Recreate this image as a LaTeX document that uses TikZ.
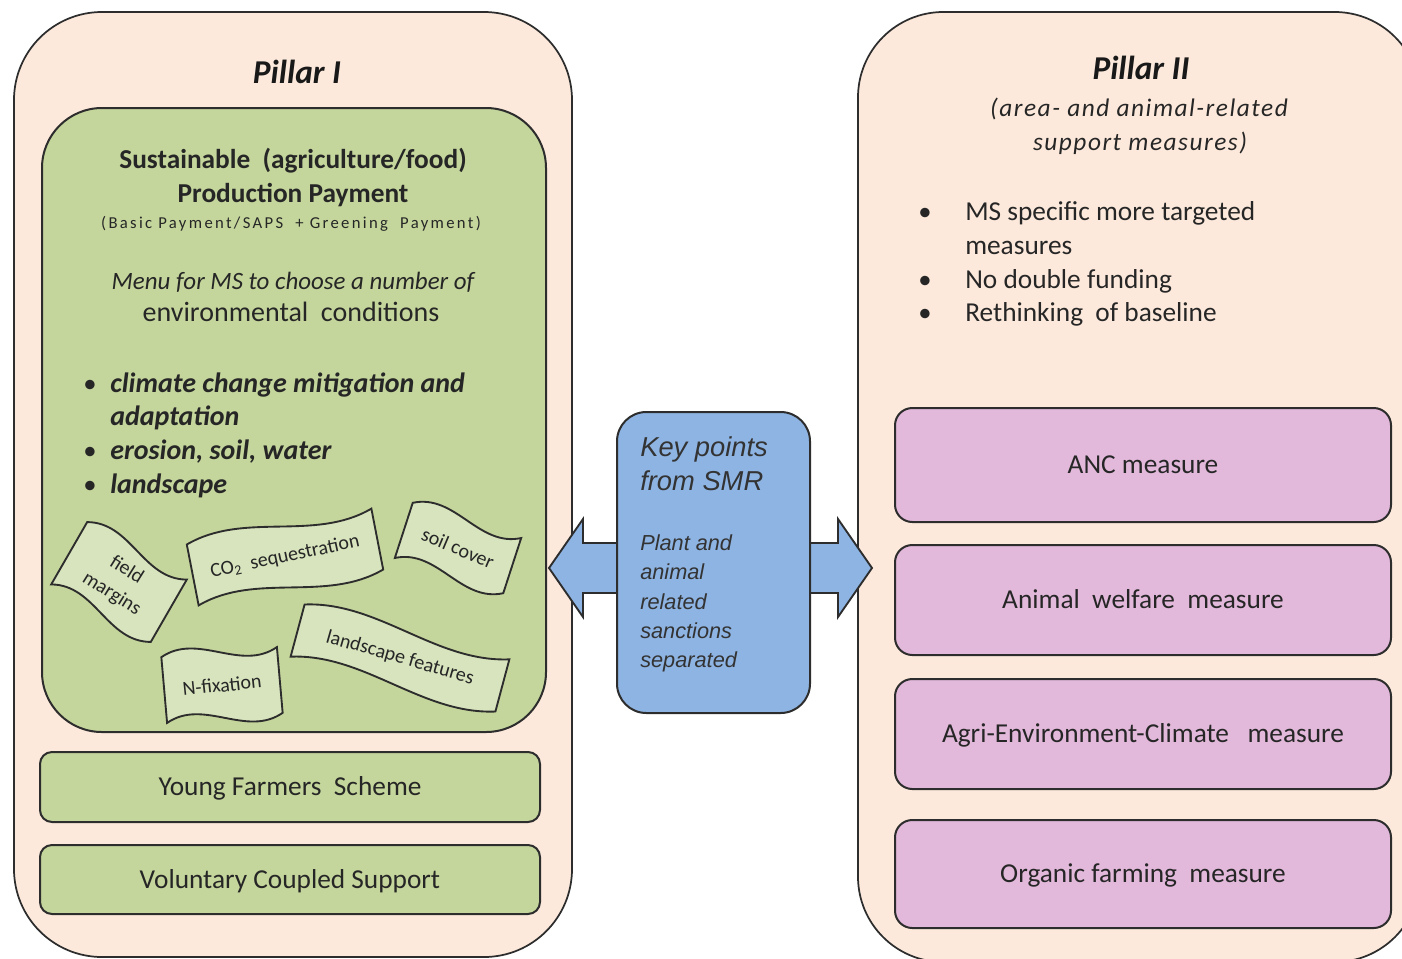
\documentclass[tikz,border=0pt]{standalone}
\usepackage{fontspec}
\setmainfont{Carlito}
\newfontfamily\arialfont{Liberation Sans}
\usetikzlibrary{calc}

\definecolor{pillarfill}{RGB}{252,233,219}
\definecolor{greenfill}{RGB}{196,214,156}
\definecolor{flagfill}{RGB}{215,228,189}
\definecolor{pinkfill}{RGB}{226,185,219}
\definecolor{bluefill}{RGB}{142,180,227}
\definecolor{edge}{RGB}{45,45,45}

% wavy banner: name, x, y, width, height, angle of banner, angle of text, text
\newcommand\wavyflag[8]{%
  \begin{scope}[shift={(#2,#3)}, rotate=#6]
    \draw[flagbox] (-#4/2,-#5/2)
      .. controls (-#4/6,-#5/2-22) and (#4/6,-#5/2+22) .. (#4/2,-#5/2)
      -- (#4/2,#5/2)
      .. controls (#4/6,#5/2+22) and (-#4/6,#5/2-22) .. (-#4/2,#5/2)
      -- cycle;
  \end{scope}
  \node[flagtext, rotate=#7] (#1) at (#2,#3) {#8};}

\begin{document}
\begin{tikzpicture}[x=0.75pt,y=-0.75pt,
  pillar/.style={draw=edge, line width=1.3pt, fill=pillarfill, rounded corners=66pt},
  greenbox/.style={draw=edge, line width=1.5pt, fill=greenfill},
  pinkbox/.style={draw=edge, line width=1.5pt, fill=pinkfill, rounded corners=13pt,
    minimum width=372pt},
  flagbox/.style={draw=edge, line width=1.4pt, fill=flagfill},
  flagtext/.style={font=\fontsize{15}{19}\selectfont, align=center, inner sep=0pt, text=black!85},
  blockarrow/.style={draw=edge, line width=1.4pt, fill=bluefill, line join=miter},
  title/.style={font=\fontsize{25}{30}\selectfont\bfseries\itshape, text=black!90,
    inner sep=0pt, text height=17.6pt, text depth=1pt},
  body/.style={font=\fontsize{20.5}{24}\selectfont, text=black!85, inner sep=0pt,
    text height=14.2pt, text depth=1pt},
  bitem/.style={body, anchor=west, font=\fontsize{21}{24}\selectfont\bfseries\itshape},
  bullet/.style={font=\fontsize{20}{24}\selectfont, text=black!85, inner sep=0pt,
    text height=14.2pt, text depth=1pt},
  keyline/.style={font=\arialfont\itshape\fontsize{16.3}{19}\selectfont, text=black!80,
    anchor=west, inner sep=0pt, text height=11.5pt, text depth=1pt},
]
\useasboundingbox (0,0) rectangle (1402,958);
\clip (0,0) rectangle (1402,958);

% ---------- Pillar I ----------
\node[pillar, minimum width=418.5pt, minimum height=708.75pt] (p1) at (293,484.5) {};
\node[title] (p1title) at (297,72) {Pillar I};

\node[greenbox, rounded corners=45pt, minimum width=378pt, minimum height=468pt]
  (spp) at (294,420) {};
\node[body, font=\fontsize{20.5}{24}\selectfont\bfseries] (spp1) at (293,160)
  {Sustainable\ \ (agriculture/food)};
\node[body, font=\fontsize{20.5}{24}\selectfont\bfseries] (spp2) at (293,194)
  {Production Payment};
\node[body, font=\fontsize{12.5}{14}\selectfont\addfontfeatures{LetterSpace=14},
  text height=9pt] (spp3) at (291,223)
  {(Basic Payment/SAPS\ \ + Greening\ \ Payment)};
\node[body, font=\fontsize{18.7}{22}\selectfont\itshape] (menu1) at (293,281)
  {Menu for MS to choose a number of};
\node[body, font=\fontsize{21}{24}\selectfont] (menu2) at (291,313) {environmental\ \ conditions};

\node[bullet] (b1) at (90,384) {•};
\node[bitem] (t1a) at (110,384) {climate change mitigation and};
\node[bitem] (t1b) at (110,417) {adaptation};
\node[bullet] (b2) at (90,451) {•};
\node[bitem] (t2) at (110,451) {erosion, soil, water};
\node[bullet] (b3) at (90,485) {•};
\node[bitem] (t3) at (110,485) {landscape};

% environmental condition banners
\wavyflag{fm}{119}{582}{115}{72}{-30}{-32}{field\\[2pt]margins}
\wavyflag{co}{285}{557}{188}{62}{11}{12}{CO\textsubscript{2}\ \ sequestration}
\wavyflag{sc}{458}{548}{114}{58}{-18}{-23}{soil cover}
\wavyflag{nf}{222}{685}{116}{66}{5}{6}{N-fixation}
\wavyflag{lf}{400}{658}{212}{54}{-15}{-16}{landscape features}

\node[greenbox, rounded corners=9pt, minimum width=375pt, minimum height=52.5pt]
  (yfs) at (290,787) {};
\node[body] (yfst) at (yfs.center) {Young Farmers\ \ Scheme};
\node[greenbox, rounded corners=9pt, minimum width=375pt, minimum height=51.75pt]
  (vcs) at (290,879.5) {};
\node[body] (vcst) at (vcs.center) {Voluntary Coupled Support};

% ---------- Pillar II ----------
\node[pillar, rounded corners=64pt, minimum width=421.5pt, minimum height=712.5pt] (p2) at (1139,487) {};
\node[title] (p2title) at (1141,68) {Pillar II};
\node[body, font=\fontsize{19}{22}\selectfont\itshape\addfontfeatures{LetterSpace=6}] (p2sub1) at (1139,108)
  {(area- and animal-related};
\node[body, font=\fontsize{19}{22}\selectfont\itshape\addfontfeatures{LetterSpace=6}] (p2sub2) at (1140,142)
  {support measures)};

\node[bullet] (r1) at (925,212) {•};
\node[body, anchor=west] (r1a) at (965,212) {MS specific\ more\ targeted};
\node[body, anchor=west] (r1b) at (965,246) {measures};
\node[bullet] (r2) at (925,280) {•};
\node[body, anchor=west] (r2a) at (965,280) {No double\ funding};
\node[bullet] (r3) at (925,313) {•};
\node[body, anchor=west] (r3a) at (965,313) {Rethinking\ \ of baseline};

\node[pinkbox, minimum height=85.5pt] (anc) at (1143,465) {};
\node[body] (anct) at (anc.center) {ANC measure};
\node[pinkbox, minimum height=82.5pt] (awm) at (1143,600) {};
\node[body] (awmt) at (awm.center) {Animal\ \ welfare\ \ measure};
\node[pinkbox, minimum height=82.5pt] (aec) at (1143,734) {};
\node[body] (aect) at (aec.center) {Agri-Environment-Climate\ \ \ measure};
\node[pinkbox, minimum height=81pt] (ofm) at (1143,874) {};
\node[body] (ofmt) at (ofm.center) {Organic\ farming\ \ measure};

% ---------- SMR key points with block arrows ----------
\coordinate (keyW) at (617,562.5);
\coordinate (keyE) at (810,562.5);
\draw[blockarrow] ($(keyW)+(6,-19.5)$) -- ($(keyW)+(-34,-19.5)$) -- ($(keyW)+(-34,-43.5)$)
  -- ($(keyW)+(-68,5.5)$) -- ($(keyW)+(-34,54.5)$) -- ($(keyW)+(-34,30.5)$)
  -- ($(keyW)+(6,30.5)$) -- cycle;
\draw[blockarrow] ($(keyE)+(-6,-19.5)$) -- ($(keyE)+(28,-19.5)$) -- ($(keyE)+(28,-43.5)$)
  -- ($(keyE)+(62,5.5)$) -- ($(keyE)+(28,54.5)$) -- ($(keyE)+(28,30.5)$)
  -- ($(keyE)+(-6,30.5)$) -- cycle;
\node[draw=edge, line width=1.5pt, fill=bluefill, rounded corners=22pt,
  minimum width=144.75pt, minimum height=225.75pt] (key) at (713.5,562.5) {};

\node[keyline, font=\arialfont\itshape\fontsize{20.5}{24}\selectfont, text height=15pt] (k1) at (640,447) {Key points};
\node[keyline, font=\arialfont\itshape\fontsize{20.5}{24}\selectfont, text height=15pt] (k2) at (640,481) {from\ SMR};
\node[keyline] (k3) at (640,543) {Plant and};
\node[keyline] (k4) at (640,572) {animal};
\node[keyline] (k5) at (640,602) {related};
\node[keyline] (k6) at (640,631) {sanctions};
\node[keyline] (k7) at (640,660) {separated};
\end{tikzpicture}
\end{document}
